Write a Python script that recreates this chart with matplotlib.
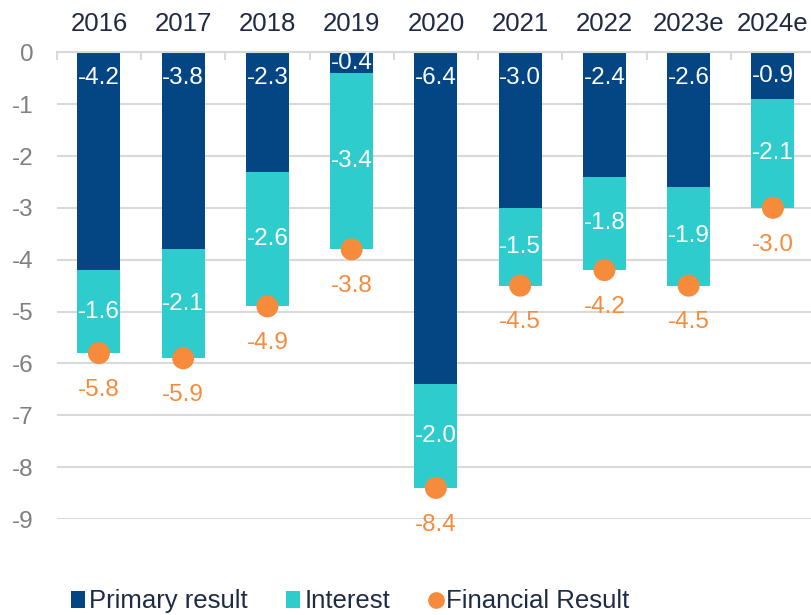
import matplotlib
matplotlib.use("Agg")
import matplotlib.pyplot as plt
from matplotlib import font_manager
from matplotlib.lines import Line2D
from matplotlib.patches import Patch

names = {f.name for f in font_manager.fontManager.ttflist}
FONT = "Liberation Sans Narrow" if "Liberation Sans Narrow" in names else "Liberation Sans"
plt.rcParams["font.family"] = [FONT, "DejaVu Sans"]

years = ["2016", "2017", "2018", "2019", "2020", "2021", "2022", "2023e", "2024e"]
primary = [-4.2, -3.8, -2.3, -0.4, -6.4, -3.0, -2.4, -2.6, -0.9]
interest = [-1.6, -2.1, -2.6, -3.4, -2.0, -1.5, -1.8, -1.9, -2.1]
financial = [-5.8, -5.9, -4.9, -3.8, -8.4, -4.5, -4.2, -4.5, -3.0]

C_PRIM = "#044584"
C_INT = "#2ECCCC"
C_FIN = "#F68B3C"
C_TXT = "#1F2A44"
C_GRID = "#D9D9D9"

fig = plt.figure(figsize=(8.11, 6.15), dpi=100)
ax = fig.add_axes([0.070, 0.156, 0.935, 0.759])

x = list(range(len(years)))
w = 0.51
ax.bar(x, primary, width=w, color=C_PRIM, zorder=2)
ax.bar(x, interest, width=w, bottom=primary, color=C_INT, zorder=2)
ax.scatter(x, financial, s=250, color=C_FIN, zorder=4, edgecolors="none")

LS = 17.5
for i in x:
    p = primary[i]
    ypos = max(p / 2, -0.5)
    ax.text(i, ypos, f"{p:.1f}", ha="center", va="center", color="white", fontsize=LS, zorder=5)
    ax.text(i, p + interest[i] / 2, f"{interest[i]:.1f}", ha="center", va="center",
            color="white", fontsize=LS, zorder=5)
    ax.annotate(f"{financial[i]:.1f}", (i, financial[i]), xytext=(0, -26.5),
                textcoords="offset points", ha="center", va="center",
                color=C_FIN, fontsize=LS, zorder=5)

ax.set_xlim(-0.5, 8.5)
ax.set_ylim(-9, 0)
ax.set_yticks(range(0, -10, -1))
ax.set_yticklabels([str(v) for v in range(0, -10, -1)])
ax.yaxis.grid(True, color=C_GRID, linewidth=1.5, zorder=0)
ax.set_axisbelow(True)
ax.tick_params(axis="y", length=0, pad=16.5, labelsize=17.5, labelcolor="#7F7F7F")

ax.xaxis.tick_top()
ax.set_xticks(x)
ax.set_xticklabels(years)
ax.set_xticks([i + 0.5 for i in range(-1, len(years))], minor=True)
ax.tick_params(axis="x", which="major", length=0, pad=12, labelsize=18.5, labelcolor=C_TXT)
ax.tick_params(axis="x", which="minor", length=6, direction="in", color=C_GRID, width=1.5)

for s in ["left", "right", "bottom"]:
    ax.spines[s].set_visible(False)
ax.spines["top"].set_color(C_GRID)
ax.spines["top"].set_linewidth(1.5)

handles = [
    Patch(facecolor=C_PRIM, label="Primary result"),
    Patch(facecolor=C_INT, label="Interest"),
    Line2D([], [], marker="o", linestyle="none", markersize=11, color=C_FIN, label="Financial Result"),
]
fig.legend(handles=handles, loc="center", bbox_to_anchor=(0.432, 0.022), ncol=3, frameon=False,
           fontsize=18.5, handlelength=0.55, handleheight=0.6, handletextpad=0.15, columnspacing=1.5,
           labelcolor=C_TXT)

fig.savefig("out.png", dpi=100)
